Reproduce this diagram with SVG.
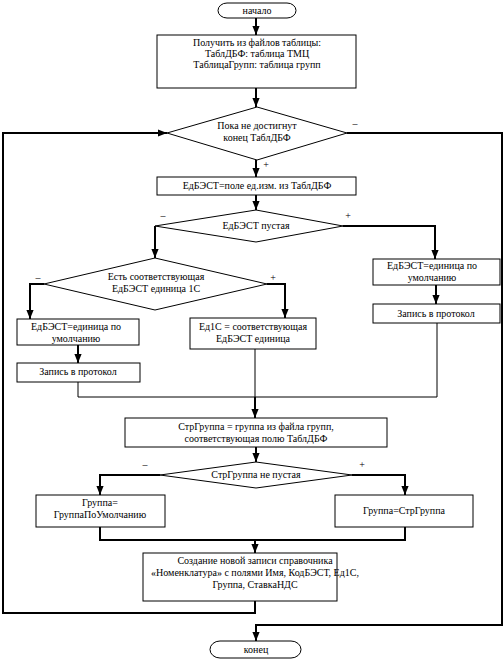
<svg xmlns="http://www.w3.org/2000/svg" width="504" height="663" viewBox="0 0 504 663">
<defs>
<marker id="arr" markerUnits="userSpaceOnUse" viewBox="0 0 10 8" refX="10" refY="4" markerWidth="9" markerHeight="8" orient="auto">
<path d="M0,0 L10,4 L0,8 z" fill="#000"/>
</marker>
</defs>
<style>
.bg{fill:#fff}
.box{fill:#fff;stroke:#000;stroke-width:1}
.t{font-family:'Liberation Serif','DejaVu Serif',serif;font-size:10px;fill:#000;text-anchor:middle}
.c{fill:none;stroke:#000;stroke-width:2}
.ca{fill:none;stroke:#000;stroke-width:2;marker-end:url(#arr)}
.thin{fill:none;stroke:#000;stroke-width:1}
</style>
<rect class="bg" x="0" y="0" width="504" height="663"/>
<g id="connectors">
<path class="ca" d="M256,18 V35"/>
<path class="ca" d="M256,88 V107"/>
<path class="ca" d="M256,160 V177"/>
<path class="ca" d="M256,195 V210"/>
<path class="ca" d="M155,226 V258"/>
<path class="ca" d="M343,226 H435 V259"/>
<path class="ca" d="M436,285 V304"/>
<path class="ca" d="M44,284 H30 V319"/>
<path class="ca" d="M267,284 H285 V318"/>
<path class="ca" d="M78,345 V363"/>
<path class="thin" d="M78,382 V397 H437 V323"/>
<path class="thin" d="M255,349 V397"/>
<path class="ca" d="M255,397 V418"/>
<path class="ca" d="M256,447 V462"/>
<path class="ca" d="M160,475 H100 V495"/>
<path class="ca" d="M352,475 H405 V495"/>
<path class="c" d="M100,527 V540 H405 V527"/>
<path class="ca" d="M255,540 V553"/>
<path class="ca" d="M255,601 V613 H3 V133 H167"/>
<path class="ca" d="M347,133 H502 V625 H256 V641"/>
<text class="t" font-family="Liberation Serif, serif" x="355" y="127">–</text>
<text class="t" font-family="Liberation Serif, serif" x="266" y="168">+</text>
<text class="t" font-family="Liberation Serif, serif" x="163" y="219">–</text>
<text class="t" font-family="Liberation Serif, serif" x="348" y="219">+</text>
<text class="t" font-family="Liberation Serif, serif" x="38" y="281">–</text>
<text class="t" font-family="Liberation Serif, serif" x="273" y="281">+</text>
<text class="t" font-family="Liberation Serif, serif" x="145" y="468">–</text>
<text class="t" font-family="Liberation Serif, serif" x="362" y="468">+</text>
</g>
<g id="start">
<rect class="box" x="218" y="3" width="78" height="15" rx="9" ry="7.5"/>
<text class="t" x="257" y="14">начало</text>
</g>
<g id="load">
<rect class="box" x="157" y="35" width="199" height="53"/>
<text class="t" x="257" y="46">Получить из файлов таблицы:</text>
<text class="t" x="257" y="57">ТаблДБФ: таблица ТМЦ</text>
<text class="t" x="257" y="68">ТаблицаГрупп: таблица групп</text>
</g>
<g id="loop">
<polygon class="box" points="257,107 347,133 257,160 167,133"/>
<text class="t" x="257" y="129">Пока не достигнут</text>
<text class="t" x="257" y="141">конец ТаблДБФ</text>
</g>
<g id="edbest">
<rect class="box" x="157" y="177" width="199" height="18"/>
<text class="t" x="257" y="189">ЕдБЭСТ=поле ед.изм. из ТаблДБФ</text>
</g>
<g id="empty">
<polygon class="box" points="256,210 343,226 256,242 155,226"/>
<text class="t" x="256" y="229">ЕдБЭСТ пустая</text>
</g>
<g id="default-right">
<rect class="box" x="373" y="259" width="127" height="26"/>
<text class="t" x="432" y="269">ЕдБЭСТ=единица по</text>
<text class="t" x="432" y="281">умолчанию</text>
</g>
<g id="log-right">
<rect class="box" x="373" y="304" width="127" height="19"/>
<text class="t" x="436" y="317">Запись в протокол</text>
</g>
<g id="match">
<polygon class="box" points="155,258 267,284 155,310 44,284"/>
<text class="t" x="156" y="280">Есть соответствующая</text>
<text class="t" x="156" y="292">ЕдБЭСТ единица 1С</text>
</g>
<g id="default-left">
<rect class="box" x="17" y="319" width="122" height="26"/>
<text class="t" x="76" y="330">ЕдБЭСТ=единица по</text>
<text class="t" x="76" y="342">умолчанию</text>
</g>
<g id="log-left">
<rect class="box" x="17" y="363" width="123" height="19"/>
<text class="t" x="78" y="375">Запись в протокол</text>
</g>
<g id="ed1c">
<rect class="box" x="190" y="318" width="126" height="31"/>
<text class="t" x="253" y="330">Ед1С = соответствующая</text>
<text class="t" x="253" y="342">ЕдБЭСТ единица</text>
</g>
<g id="strgroup">
<rect class="box" x="125" y="418" width="262" height="29"/>
<text class="t" x="256" y="430">СтрГруппа = группа из файла групп,</text>
<text class="t" x="256" y="442">соответствующая полю ТаблДБФ</text>
</g>
<g id="notempty">
<polygon class="box" points="256,462 352,475 256,488 160,475"/>
<text class="t" x="256" y="478">СтрГруппа не пустая</text>
</g>
<g id="group-default">
<rect class="box" x="36" y="495" width="129" height="32"/>
<text class="t" x="100" y="506">Группа=</text>
<text class="t" x="100" y="518">ГруппаПоУмолчанию</text>
</g>
<g id="group-str">
<rect class="box" x="335" y="495" width="138" height="32"/>
<text class="t" x="404" y="514">Группа=СтрГруппа</text>
</g>
<g id="create">
<rect class="box" x="143" y="553" width="194" height="48"/>
<text class="t" x="255" y="564">Создание новой записи справочника</text>
<text class="t" x="255" y="576">«Номенклатура» с полями Имя, КодБЭСТ, Ед1С,</text>
<text class="t" x="255" y="588">Группа, СтавкаНДС</text>
</g>
<g id="end">
<rect class="box" x="210" y="641" width="91" height="17" rx="10" ry="8.5"/>
<text class="t" x="256" y="653">конец</text>
</g>
</svg>
